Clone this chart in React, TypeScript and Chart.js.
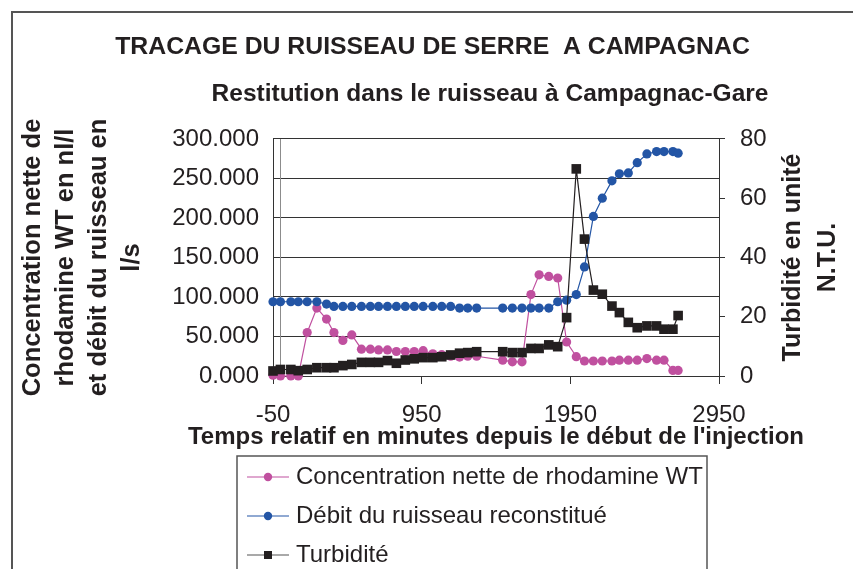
import React, { useEffect, useRef } from 'react';
import { Chart, registerables } from 'chart.js';

Chart.register(...registerables);

// ---------- data ----------
const times = [
  -50, 0, 70, 120, 180, 245, 310, 360, 420, 480, 545, 605, 660, 720, 780,
  840, 900, 960, 1025, 1085, 1145, 1205, 1260, 1320, 1495, 1560, 1625, 1685,
  1740, 1805, 1865, 1925, 1990, 2045, 2105, 2165, 2230, 2280, 2340, 2400,
  2465, 2530, 2580, 2640, 2675,
];
const rhodamine = [
  1, 0, 0, 0, 55, 86, 72, 55, 45, 52, 34, 34, 33, 33, 31,
  31, 31, 32, 28, 27, 25, 24, 25, 25, 20, 18, 18, 103,
  128, 126, 124, 43, 24.5, 19, 19, 19, 19, 20, 20, 20,
  22, 20, 20, 7, 7,
];
const debit = [
  94, 94, 94, 94, 94, 94, 91, 88, 88, 88, 88, 88, 88, 88, 88,
  88, 88, 88, 88, 88, 88, 86, 86, 86, 86, 86, 86, 86,
  86, 86, 94, 96, 103, 138, 202, 225, 247, 256, 257, 270,
  281, 284, 284, 284, 282,
];
const turbidite = [
  1.7, 2.2, 2.2, 1.8, 2.2, 2.8, 2.8, 2.8, 3.5, 3.9, 4.6, 4.6, 4.6, 5.2, 4.3,
  5.4, 5.8, 6.2, 6.2, 6.5, 7.1, 7.7, 7.9, 8.2, 8.2, 7.9, 7.9, 9.3,
  9.3, 10.5, 9.9, 19.7, 69.9, 46.2, 29, 27.6, 23.6, 21.4, 18.1, 16.3,
  16.9, 16.9, 15.8, 15.8, 20.4,
];
const xTickValues = [-50, 950, 1950, 2950];
const seriesLabels = [
  'Concentration nette de rhodamine WT',
  'Débit du ruisseau reconstitué',
  'Turbidité',
];
const titleText = 'TRACAGE DU RUISSEAU DE SERRE  A CAMPAGNAC';
const subtitleText = 'Restitution dans le ruisseau à Campagnac-Gare';
const yTitleLines = ['Concentration nette de', 'rhodamine WT en nl/l', 'et débit du ruisseau en', 'l/s'];
const y1TitleLines = ['Turbidité en unité', 'N.T.U.'];
const xTitleText = "Temps relatif en minutes depuis le début de l'injection";

// ---------- styles ----------
const FONT = '"Liberation Sans", Arial, Helvetica, sans-serif';
const TEXT = '#231f20';
const MAGENTA = '#c0509f';
const BLUE = '#2355a5';
const BLACK = '#231f20';
const AXIS = '#333333';

const toPts = (vals: number[]) => vals.map((v, i) => ({ x: times[i], y: v }));

const decorPlugin = {
  id: 'decor',
  beforeDraw(chart: any) {
    const ctx = chart.ctx;
    ctx.save();
    ctx.strokeStyle = '#555555';
    ctx.lineWidth = 2;
    ctx.beginPath();
    ctx.moveTo(12, chart.height + 2);
    ctx.lineTo(12, 12);
    ctx.lineTo(chart.width + 2, 12);
    ctx.stroke();
    ctx.restore();
  },
  beforeDatasetsDraw(chart: any) {
    const ctx = chart.ctx;
    const { top, bottom } = chart.chartArea;
    const x0 = Math.round(chart.scales.x.getPixelForValue(0)) + 0.5;
    ctx.save();
    ctx.strokeStyle = '#8c8c8c';
    ctx.lineWidth = 1;
    ctx.beginPath();
    ctx.moveTo(x0, top);
    ctx.lineTo(x0, bottom);
    ctx.stroke();
    ctx.restore();
  },
  afterDraw(chart: any) {
    const ctx = chart.ctx;
    const { top, bottom, left, right } = chart.chartArea;
    ctx.save();
    ctx.fillStyle = TEXT;
    ctx.textAlign = 'center';
    ctx.textBaseline = 'middle';

    // subtitle
    ctx.font = `bold 24.5px ${FONT}`;
    ctx.fillText(subtitleText, 490, 94);

    // x axis title
    ctx.font = `bold 24px ${FONT}`;
    ctx.fillText(xTitleText, (left + right) / 2, 437);

    // right axis title (reads bottom to top)
    ctx.font = `bold 25px ${FONT}`;
    const cy = (top + bottom) / 2;
    y1TitleLines.forEach((line, i) => {
      ctx.save();
      ctx.translate(793 + i * 35, cy);
      ctx.rotate(-Math.PI / 2);
      ctx.fillText(line, 0, 0);
      ctx.restore();
    });
    ctx.restore();

    // legend
    const colors = [MAGENTA, BLUE, BLACK];
    const lineColors = [MAGENTA, BLUE, '#555555'];
    const styles = ['circle', 'circle', 'rect'];
    ctx.save();
    ctx.strokeStyle = '#555555';
    ctx.lineWidth = 1.5;
    ctx.strokeRect(237, 456, 470, 140);
    ctx.font = `24px ${FONT}`;
    ctx.textBaseline = 'middle';
    ctx.textAlign = 'left';
    seriesLabels.forEach((label, i) => {
      const y = 477 + i * 39;
      ctx.strokeStyle = lineColors[i];
      ctx.lineWidth = 1.2;
      ctx.beginPath();
      ctx.moveTo(247, y);
      ctx.lineTo(289, y);
      ctx.stroke();
      ctx.fillStyle = colors[i];
      if (styles[i] === 'circle') {
        ctx.beginPath();
        ctx.arc(268, y, 4.2, 0, Math.PI * 2);
        ctx.fill();
      } else {
        ctx.fillRect(264, y - 4, 8, 8);
      }
      ctx.fillStyle = TEXT;
      ctx.fillText(label, 296, y);
    });
    ctx.restore();
  },
};

export default function App() {
  const ref = useRef<HTMLCanvasElement | null>(null);

  useEffect(() => {
    if (!ref.current) return;
    const chart = new Chart(ref.current, {
      type: 'line',
      data: {
        datasets: [
          {
            label: seriesLabels[0],
            data: toPts(rhodamine),
            borderColor: MAGENTA,
            backgroundColor: MAGENTA,
            borderWidth: 1.2,
            pointRadius: 4.6,
            pointBorderWidth: 0,
            pointStyle: 'circle',
            yAxisID: 'y',
            order: 2,
            clip: false,
          },
          {
            label: seriesLabels[1],
            data: toPts(debit),
            borderColor: BLUE,
            backgroundColor: BLUE,
            borderWidth: 1.2,
            pointRadius: 4.6,
            pointBorderWidth: 0,
            pointStyle: 'circle',
            yAxisID: 'y',
            order: 1,
            clip: false,
          },
          {
            label: seriesLabels[2],
            data: toPts(turbidite),
            borderColor: BLACK,
            backgroundColor: BLACK,
            borderWidth: 1.2,
            pointRadius: 6.8,
            pointBorderWidth: 0,
            pointStyle: 'rect',
            yAxisID: 'y1',
            order: 0,
            clip: false,
          },
        ],
      },
      options: {
        responsive: false,
        animation: false,
        devicePixelRatio: 1,
        layout: { padding: { left: 12, top: 12, right: 0, bottom: 113 } },
        plugins: {
          legend: { display: false },
          tooltip: { enabled: false },
          title: {
            display: true,
            text: titleText,
            color: TEXT,
            font: { family: FONT, size: 24.8, weight: 'bold' },
            padding: { top: 20, bottom: 77.2 },
            fullSize: true,
          },
          subtitle: { display: false },
        },
        scales: {
          x: {
            type: 'linear',
            min: -50,
            max: 2950,
            afterBuildTicks: (s: any) => {
              s.ticks = xTickValues.map((v) => ({ value: v }));
            },
            afterFit: (s: any) => {
              s.height = 80;
            },
            grid: {
              drawOnChartArea: false,
              drawTicks: true,
              tickLength: 8,
              tickColor: AXIS,
              color: AXIS,
            },
            border: { display: true, color: AXIS, width: 1 },
            ticks: {
              color: TEXT,
              font: { family: FONT, size: 24 },
              padding: 17,
              maxRotation: 0,
              autoSkip: false,
              callback: (v: any) => String(v),
            },
            title: { display: false },
          },
          y: {
            position: 'left',
            min: 0,
            max: 300,
            afterFit: (s: any) => {
              s.width = 261;
            },
            grid: { color: AXIS, drawTicks: false, lineWidth: 1 },
            border: { display: true, color: AXIS, width: 1 },
            ticks: {
              stepSize: 50,
              color: TEXT,
              font: { family: FONT, size: 24 },
              padding: 14,
              callback: (v: any) => Number(v).toFixed(3),
            },
            title: {
              display: true,
              text: yTitleLines,
              color: TEXT,
              font: { family: FONT, size: 25.5, weight: 'bold', lineHeight: '33px' },
              padding: { top: 4.5, bottom: 0 },
            },
          },
          y1: {
            position: 'right',
            min: 0,
            max: 80,
            afterFit: (s: any) => {
              s.width = 134;
            },
            grid: {
              drawOnChartArea: false,
              drawTicks: true,
              tickLength: 6,
              tickColor: AXIS,
              color: AXIS,
            },
            border: { display: true, color: AXIS, width: 1 },
            ticks: {
              stepSize: 20,
              color: TEXT,
              font: { family: FONT, size: 24 },
              padding: 15,
            },
          },
        },
      },
      plugins: [decorPlugin],
    } as any);
    return () => chart.destroy();
  }, []);

  return (
    <div style={{ position: 'absolute', left: 0, top: 0, width: 853, height: 569, background: '#ffffff' }}>
      <canvas ref={ref} width={853} height={569} style={{ display: 'block' }} />
    </div>
  );
}
